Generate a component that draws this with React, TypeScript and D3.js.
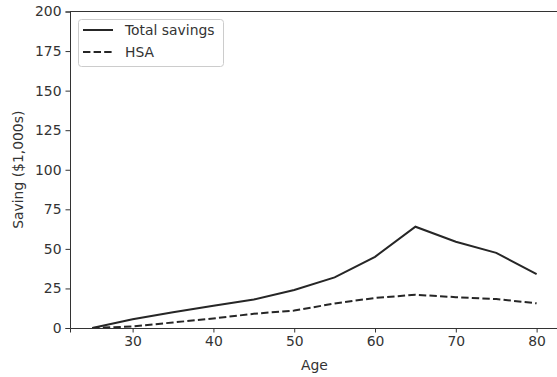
import React, { useRef, useEffect } from 'react';
import * as d3 from 'd3';

const ages = [25, 30, 35, 40, 45, 50, 55, 60, 65, 70, 75, 80];
const totalSavings = [0, 5.5, 10, 14, 18, 24, 32, 45, 64, 54.5, 47.5, 34];
const hsaSavings = [0, 1, 3.5, 6, 9, 11, 15.5, 19, 21, 19.5, 18.3, 15.6];
const xTicks = [30, 40, 50, 60, 70, 80];
const yTicks = [0, 25, 50, 75, 100, 125, 150, 175, 200];

const W = 557;
const H = 377;
const FONT = 'DejaVu Sans, sans-serif';

export default function App() {
  const ref = useRef<SVGSVGElement>(null);

  useEffect(() => {
    const svg = d3.select(ref.current);
    svg.selectAll('*').remove();

    const left = 70, top = 11.5, bottom = 328;
    const x = d3.scaleLinear().domain([22.25, 82.75]).range([left, left + 60.5 * 8.08]);
    const y = d3.scaleLinear().domain([0, 200]).range([bottom, top]);

    svg.append('rect').attr('width', W).attr('height', H).attr('fill', '#fff');

    const line = d3.line<number>()
      .x((d, i) => x(ages[i]))
      .y(d => y(d));

    svg.append('path').datum(totalSavings)
      .attr('fill', 'none').attr('stroke', '#262626').attr('stroke-width', 2)
      .attr('d', line);
    svg.append('path').datum(hsaSavings)
      .attr('fill', 'none').attr('stroke', '#262626').attr('stroke-width', 2)
      .attr('stroke-dasharray', '7.4,3.2')
      .attr('d', line);

    const gx = svg.append('g').attr('transform', `translate(0,${bottom})`)
      .call(d3.axisBottom(x).tickValues(xTicks).tickSize(4.5).tickPadding(4));
    const gy = svg.append('g').attr('transform', `translate(${left},0)`)
      .call(d3.axisLeft(y).tickValues(yTicks).tickSize(4.5).tickPadding(4));
    [gx, gy].forEach(g => {
      g.select('.domain').attr('stroke', '#333').attr('stroke-width', 1);
      g.selectAll('.tick line').attr('stroke', '#333');
      g.selectAll('.tick text').attr('fill', '#333').attr('font-size', 13.9).attr('font-family', FONT);
    });

    // frame top
    svg.append('line').attr('x1', left).attr('x2', W).attr('y1', top).attr('y2', top)
      .attr('stroke', '#333');

    svg.append('text').attr('x', x(52.5)).attr('y', 370)
      .attr('text-anchor', 'middle').attr('font-size', 13.9).attr('font-family', FONT)
      .attr('fill', '#333').text('Age');
    svg.append('text')
      .attr('transform', `translate(23,${(top + bottom) / 2}) rotate(-90)`)
      .attr('text-anchor', 'middle').attr('font-size', 13.9).attr('font-family', FONT)
      .attr('fill', '#333').text('Saving ($1,000s)');

    // legend
    const lg = svg.append('g');
    lg.append('rect').attr('x', 78.5).attr('y', 19.5).attr('width', 145).attr('height', 47)
      .attr('rx', 3).attr('fill', '#fff').attr('stroke', '#ccc');
    const items = [
      { label: 'Total savings', dash: null },
      { label: 'HSA', dash: '7.4,3.2' },
    ];
    items.forEach((it, i) => {
      const yy = 30 + i * 22;
      const l = lg.append('line').attr('x1', 83).attr('x2', 113).attr('y1', yy).attr('y2', yy)
        .attr('stroke', '#262626').attr('stroke-width', 2);
      if (it.dash) l.attr('stroke-dasharray', it.dash);
      lg.append('text').attr('x', 125).attr('y', yy + 5).attr('font-size', 13.9)
        .attr('font-family', FONT).attr('fill', '#333').text(it.label);
    });
  }, []);

  return (
    <svg ref={ref} width={W} height={H} style={{ display: 'block', position: 'absolute', left: 0, top: 0 }} />
  );
}
